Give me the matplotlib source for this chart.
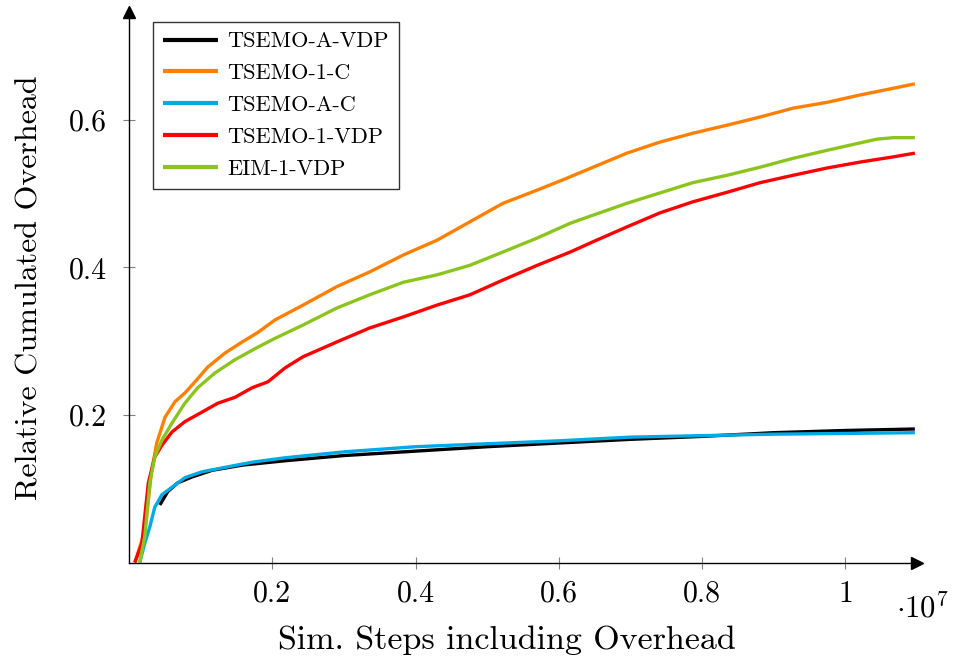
import matplotlib
matplotlib.use('Agg')
import matplotlib.pyplot as plt

plt.rcParams['font.family'] = ['cmr10', 'DejaVu Serif']
plt.rcParams['mathtext.fontset'] = 'cm'
plt.rcParams['axes.formatter.use_mathtext'] = True

# x values in units of 1e7 sim steps
x_black = [0.043, 0.054, 0.068, 0.088, 0.116, 0.158, 0.218, 0.3, 0.4, 0.5, 0.6, 0.7, 0.8, 0.9, 1.0, 1.097]
y_black = [0.078, 0.096, 0.108, 0.116, 0.125, 0.132, 0.138, 0.145, 0.151, 0.157, 0.162, 0.167, 0.171, 0.176, 0.179, 0.181]

x_orange = [0.0084, 0.0223, 0.0317, 0.0387, 0.0503, 0.0642, 0.0782, 0.0921, 0.110, 0.134, 0.158, 0.180, 0.204,
            0.243, 0.290, 0.336, 0.383, 0.430, 0.476, 0.522, 0.570, 0.606, 0.648, 0.695, 0.741, 0.787, 0.835,
            0.881, 0.927, 0.975, 1.021, 1.067, 1.097]
y_orange = [0, 0.044, 0.125, 0.162, 0.197, 0.218, 0.230, 0.245, 0.265, 0.284, 0.299, 0.312, 0.329,
            0.349, 0.374, 0.394, 0.417, 0.437, 0.462, 0.487, 0.505, 0.519, 0.536, 0.555, 0.570, 0.582, 0.593,
            0.604, 0.616, 0.624, 0.634, 0.643, 0.649]

x_blue = [0.015, 0.022, 0.029, 0.036, 0.046, 0.060, 0.078, 0.102, 0.134, 0.172, 0.218, 0.3, 0.4, 0.5, 0.6,
          0.7, 0.8, 0.9, 1.0, 1.097]
y_blue = [0, 0.026, 0.048, 0.075, 0.092, 0.102, 0.115, 0.123, 0.129, 0.136, 0.142, 0.150, 0.157, 0.161, 0.165,
          0.170, 0.172, 0.174, 0.175, 0.176]

x_red = [0.008, 0.018, 0.027, 0.036, 0.046, 0.060, 0.078, 0.102, 0.124, 0.148, 0.172, 0.194, 0.218,
         0.243, 0.290, 0.336, 0.383, 0.430, 0.476, 0.522, 0.570, 0.616, 0.648, 0.695, 0.741, 0.787, 0.835,
         0.881, 0.927, 0.975, 1.021, 1.067, 1.097]
y_red = [0, 0.026, 0.108, 0.143, 0.159, 0.177, 0.191, 0.204, 0.216, 0.224, 0.237, 0.245, 0.264,
         0.279, 0.299, 0.318, 0.333, 0.349, 0.363, 0.383, 0.403, 0.421, 0.435, 0.455, 0.474, 0.489, 0.502,
         0.515, 0.525, 0.535, 0.543, 0.550, 0.555]

x_green = [0.015, 0.022, 0.029, 0.036, 0.046, 0.060, 0.078, 0.096, 0.120, 0.148, 0.180, 0.204,
           0.243, 0.290, 0.336, 0.383, 0.430, 0.476, 0.522, 0.570, 0.616, 0.648, 0.695, 0.741, 0.787, 0.835,
           0.881, 0.927, 0.975, 1.021, 1.044, 1.067, 1.097]
y_green = [0, 0.035, 0.108, 0.143, 0.166, 0.189, 0.216, 0.237, 0.257, 0.275, 0.292, 0.304,
           0.322, 0.345, 0.363, 0.380, 0.390, 0.403, 0.421, 0.440, 0.460, 0.471, 0.487, 0.501, 0.515, 0.525,
           0.536, 0.548, 0.559, 0.569, 0.574, 0.576, 0.576]

series = [
    ('TSEMO-A-VDP', x_black, y_black, 'black'),
    ('TSEMO-1-C', x_orange, y_orange, '#ff8000'),
    ('TSEMO-A-C', x_blue, y_blue, '#00aae6'),
    ('TSEMO-1-VDP', x_red, y_red, '#ff0000'),
    ('EIM-1-VDP', x_green, y_green, '#8cc41e'),
]

x_ticks = [0.2, 0.4, 0.6, 0.8, 1.0]
x_ticklabels = ['0.2', '0.4', '0.6', '0.8', '1']
y_ticks = [0.2, 0.4, 0.6]
y_ticklabels = ['0.2', '0.4', '0.6']

fig = plt.figure(figsize=(9.54, 6.57), dpi=100)
ax = fig.add_axes([129 / 954, 94.5 / 657, (917 - 129) / 954, (562.5 - 12) / 657])

for name, xs, ys, c in series:
    ax.plot(xs, ys, color=c, linewidth=2.4, label=name, solid_capstyle='butt')

ax.set_xlim(0, 1.1)
ax.set_ylim(0, 0.7464)

for s in ['top', 'right']:
    ax.spines[s].set_visible(False)
for s in ['left', 'bottom']:
    ax.spines[s].set_linewidth(1.0)

ax.plot(1, 0, marker='>', color='k', markersize=9, transform=ax.transAxes, clip_on=False)
ax.plot(0, 1, marker='^', color='k', markersize=9, transform=ax.transAxes, clip_on=False)

ax.set_xticks(x_ticks)
ax.set_xticklabels(x_ticklabels)
ax.set_yticks(y_ticks)
ax.set_yticklabels(y_ticklabels)
ax.tick_params(direction='inout', length=8, width=0.8, color='#808080', labelsize=21.5)
ax.tick_params(axis='x', pad=9)
ax.tick_params(axis='y', pad=12)

ax.set_xlabel('Sim. Steps including Overhead', fontsize=24.5)
ax.set_ylabel('Relative Cumulated Overhead', fontsize=23)
ax.xaxis.set_label_coords(0.48, -0.115)
ax.yaxis.set_label_coords(-0.108, 0.5)

fig.text(0.994, 0.061, r'$\cdot10^7$', fontsize=22, ha='right', va='baseline')

leg = ax.legend(loc='upper left', bbox_to_anchor=(0.030, 0.982), borderaxespad=0, fontsize=16,
                frameon=True, fancybox=False, framealpha=1, edgecolor='#333333', handlelength=2.5,
                handletextpad=0.4, labelspacing=0.55, borderpad=0.45)
leg.get_frame().set_linewidth(1.0)
for line in leg.get_lines():
    line.set_linewidth(3)

fig.savefig('out.png', dpi=100)
